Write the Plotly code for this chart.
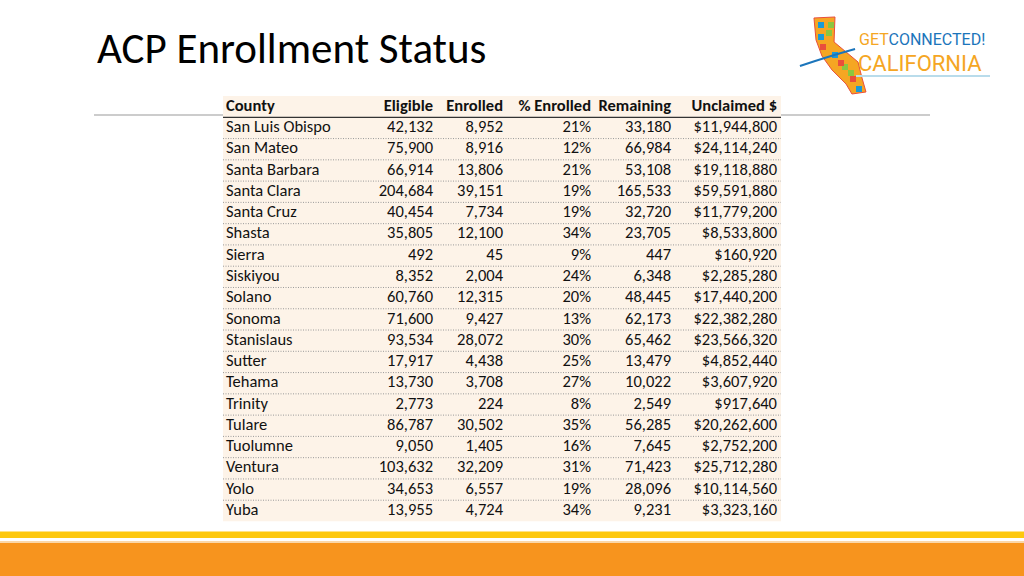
import plotly.graph_objects as go

counties = ["San Luis Obispo", "San Mateo", "Santa Barbara", "Santa Clara", "Santa Cruz",
            "Shasta", "Sierra", "Siskiyou", "Solano", "Sonoma", "Stanislaus", "Sutter",
            "Tehama", "Trinity", "Tulare", "Tuolumne", "Ventura", "Yolo", "Yuba"]
eligible = [42132, 75900, 66914, 204684, 40454, 35805, 492, 8352, 60760, 71600, 93534,
            17917, 13730, 2773, 86787, 9050, 103632, 34653, 13955]
enrolled = [8952, 8916, 13806, 39151, 7734, 12100, 45, 2004, 12315, 9427, 28072,
            4438, 3708, 224, 30502, 1405, 32209, 6557, 4724]
pct_enrolled = [21, 12, 21, 19, 19, 34, 9, 24, 20, 13, 30, 25, 27, 8, 35, 16, 31, 19, 34]
remaining = [33180, 66984, 53108, 165533, 32720, 23705, 447, 6348, 48445, 62173, 65462,
             13479, 10022, 2549, 56285, 7645, 71423, 28096, 9231]
unclaimed = [11944800, 24114240, 19118880, 59591880, 11779200, 8533800, 160920, 2285280,
             17440200, 22382280, 23566320, 4852440, 3607920, 917640, 20262600, 2752200,
             25712280, 10114560, 3323160]
headers = ["County", "Eligible", "Enrolled", "% Enrolled", "Remaining", "Unclaimed $"]

FONT = "Carlito, Lato, Liberation Sans, sans-serif"
FS = 16.5
TXT = "#111111"

n = len(counties)
rows = list(range(1, n + 1))

# column anchors (pixel x of the table)
X_LEFT, X_RIGHT = 223, 781
col_county = 226
col_right = [433, 503, 591, 671, 777]

cols = [
    [f"{v:,}" for v in eligible],
    [f"{v:,}" for v in enrolled],
    [f"{v}%" for v in pct_enrolled],
    [f"{v:,}" for v in remaining],
    [f"${v:,}" for v in unclaimed],
]

fig = go.Figure()

# county names (left aligned)
fig.add_trace(go.Scatter(
    x=[col_county] * n, y=rows, text=counties, mode="text",
    textposition="middle right", textfont=dict(family=FONT, size=FS, color=TXT),
    hoverinfo="skip", showlegend=False))

# numeric columns (right aligned)
for xr, vals in zip(col_right, cols):
    fig.add_trace(go.Scatter(
        x=[xr] * n, y=rows, text=vals, mode="text",
        textposition="middle left", textfont=dict(family=FONT, size=FS, color=TXT),
        hoverinfo="skip", showlegend=False))

# header row
hx = [col_county] + col_right
for i, (h, xx) in enumerate(zip(headers, hx)):
    fig.add_trace(go.Scatter(
        x=[xx], y=[0], text=[f"<b>{h}</b>"], mode="text",
        textposition="middle right" if i == 0 else "middle left",
        textfont=dict(family=FONT, size=FS, color=TXT),
        hoverinfo="skip", showlegend=False))

shapes = []
# gray rule under the title
shapes.append(dict(type="line", xref="paper", yref="paper", x0=94/1024, x1=930/1024,
                   y0=1-115/576, y1=1-115/576, line=dict(color="#9A9A9A", width=1.2), layer="below"))
# table background
shapes.append(dict(type="rect", xref="x", yref="y", x0=X_LEFT, x1=X_RIGHT, y0=-0.5, y1=n + 0.5,
                   fillcolor="#FDF3E8", line=dict(width=0), layer="below"))
# header bottom border
shapes.append(dict(type="line", xref="x", yref="y", x0=X_LEFT, x1=X_RIGHT, y0=0.5, y1=0.5,
                   line=dict(color="#333333", width=1.2), layer="below"))
# dotted row separators
for r in range(1, n):
    shapes.append(dict(type="line", xref="x", yref="y", x0=X_LEFT, x1=X_RIGHT, y0=r + 0.5, y1=r + 0.5,
                       line=dict(color="#9A9A9A", width=1, dash="1px,1.5px"), layer="below"))
# bottom decorative bands
shapes.append(dict(type="rect", xref="paper", yref="paper", x0=0, x1=1, y0=1-538/576, y1=1-531.5/576,
                   fillcolor="#FDC80F", line=dict(width=0), layer="below"))
shapes.append(dict(type="rect", xref="paper", yref="paper", x0=0, x1=1, y0=1-543/576, y1=1-541/576,
                   fillcolor="#FBD7A8", line=dict(width=0), layer="below"))
shapes.append(dict(type="rect", xref="paper", yref="paper", x0=0, x1=1, y0=0, y1=1-543/576,
                   fillcolor="#F7941E", line=dict(width=0), layer="below"))

# logo approximation: stylised state silhouette
def px(x, y):
    return f"{x/1024:.4f},{1-y/576:.4f}"
state_pts = [(814, 18), (835, 17), (834, 42), (858, 62), (862, 78), (866, 92), (852, 94),
             (846, 84), (832, 70), (822, 56), (816, 40)]
path = "M " + " L ".join(px(x, y) for x, y in state_pts) + " Z"
shapes.append(dict(type="path", xref="paper", yref="paper", path=path,
                   fillcolor="#F5A623", line=dict(color="#E94E3C", width=1), layer="above"))
mosaic = [("#1B9AD6", 818, 22), ("#8CC63F", 826, 30), ("#E94E3C", 820, 44), ("#1B9AD6", 832, 52),
          ("#8CC63F", 842, 64), ("#E94E3C", 850, 76), ("#1B9AD6", 856, 86), ("#8CC63F", 828, 22),
          ("#E94E3C", 838, 60), ("#1B9AD6", 818, 34), ("#8CC63F", 848, 70)]
for c, mx, my in mosaic:
    shapes.append(dict(type="rect", xref="paper", yref="paper", x0=mx/1024, x1=(mx+6)/1024,
                       y0=1-(my+6)/576, y1=1-my/576, fillcolor=c, line=dict(width=0), layer="above"))
shapes.append(dict(type="path", xref="paper", yref="paper",
                   path=f"M {px(800,66)} Q {px(830,56)} {px(855,49)}",
                   line=dict(color="#1B75BB", width=2), layer="above"))
shapes.append(dict(type="line", xref="paper", yref="paper", x0=856/1024, x1=990/1024,
                   y0=1-76/576, y1=1-76/576, line=dict(color="#B9DCEB", width=2), layer="above"))

LOGO_FONT = "Roboto, Liberation Sans, sans-serif"
annotations = [
    dict(text="ACP Enrollment Status", xref="paper", yref="paper", x=95/1024, y=1-49/576,
         xanchor="left", yanchor="middle", showarrow=False,
         font=dict(family=FONT, size=43, color="#000000")),
    dict(text="<span style='color:#F5A623'>GET</span><span style='color:#1B75BB'>CONNECTED!</span>",
         xref="paper", yref="paper", x=857/1024, y=1-39/576, xanchor="left", yanchor="middle",
         showarrow=False, font=dict(family=LOGO_FONT, size=16, color="#F5A623")),
    dict(text="CALIFORNIA",
         xref="paper", yref="paper", x=856/1024, y=1-63/576, xanchor="left", yanchor="middle",
         showarrow=False, font=dict(family=LOGO_FONT, size=22, color="#F5A623")),
]

top_px, bot_px = 96, 521.5
fig.update_layout(
    width=1024, height=576, margin=dict(l=0, r=0, t=0, b=0),
    paper_bgcolor="white", plot_bgcolor="rgba(0,0,0,0)",
    xaxis=dict(range=[0, 1024], domain=[0, 1], visible=False, fixedrange=True),
    yaxis=dict(range=[n + 0.5, -0.5], domain=[1 - bot_px/576, 1 - top_px/576],
               visible=False, fixedrange=True),
    shapes=shapes, annotations=annotations,
)

fig.write_html("out.html", config={"displayModeBar": False},
               post_script="document.body.style.margin='0';document.body.style.overflow='hidden';")
